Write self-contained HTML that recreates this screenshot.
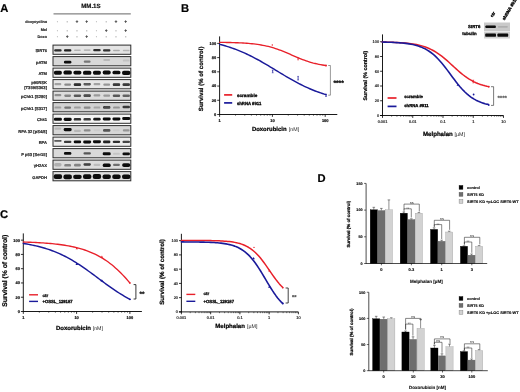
<!DOCTYPE html>
<html lang="en"><head><meta charset="utf-8"><title>Figure</title>
<style>html,body{margin:0;padding:0;background:#fff;overflow:hidden}svg{display:block;filter:blur(0.35px)}text{font-family:"Liberation Sans",sans-serif;text-rendering:geometricPrecision}</style>
</head><body>
<svg width="520" height="392" viewBox="0 0 520 392">
<defs><filter id="bl" x="-5%" y="-40%" width="110%" height="180%"><feGaussianBlur stdDeviation="0.45"/></filter></defs>
<rect x="0" y="0" width="520" height="392" fill="#fff"/>
<g id="panelA">
<text x="0.2" y="11.5" font-size="11.2" font-weight="bold" text-anchor="start" fill="#000" stroke="#000" stroke-width="0.2">A</text>
<text x="90.9" y="8.1" font-size="6.1" font-weight="bold" text-anchor="middle" fill="#111" stroke="#111" stroke-width="0.2">MM.1S</text>
<line x1="53.5" y1="13.9" x2="130.8" y2="13.9" stroke="#555" stroke-width="0.9"/>
<text x="47" y="22.7" font-size="3.8" font-weight="bold" text-anchor="end" fill="#222" stroke="#222" stroke-width="0.16">doxycycline</text>
<text x="47" y="31.4" font-size="3.8" font-weight="bold" text-anchor="end" fill="#222" stroke="#222" stroke-width="0.16">Mel</text>
<text x="47" y="37.7" font-size="3.8" font-weight="bold" text-anchor="end" fill="#222" stroke="#222" stroke-width="0.16">Doxo</text>
<text x="57.6" y="22.9" font-size="4.4" font-weight="bold" text-anchor="middle" fill="#808080">-</text>
<text x="67.35" y="22.9" font-size="4.4" font-weight="bold" text-anchor="middle" fill="#808080">-</text>
<text x="77.1" y="23.1" font-size="4.2" font-weight="bold" text-anchor="middle" fill="#2a2a2a" stroke="#2a2a2a" stroke-width="0.28">+</text>
<text x="86.85" y="23.1" font-size="4.2" font-weight="bold" text-anchor="middle" fill="#2a2a2a" stroke="#2a2a2a" stroke-width="0.28">+</text>
<text x="96.6" y="22.9" font-size="4.4" font-weight="bold" text-anchor="middle" fill="#808080">-</text>
<text x="106.35" y="22.9" font-size="4.4" font-weight="bold" text-anchor="middle" fill="#808080">-</text>
<text x="116.1" y="23.1" font-size="4.2" font-weight="bold" text-anchor="middle" fill="#2a2a2a" stroke="#2a2a2a" stroke-width="0.28">+</text>
<text x="125.85" y="23.1" font-size="4.2" font-weight="bold" text-anchor="middle" fill="#2a2a2a" stroke="#2a2a2a" stroke-width="0.28">+</text>
<text x="57.6" y="31.6" font-size="4.4" font-weight="bold" text-anchor="middle" fill="#808080">-</text>
<text x="67.35" y="31.6" font-size="4.4" font-weight="bold" text-anchor="middle" fill="#808080">-</text>
<text x="77.1" y="31.6" font-size="4.4" font-weight="bold" text-anchor="middle" fill="#808080">-</text>
<text x="86.85" y="31.6" font-size="4.4" font-weight="bold" text-anchor="middle" fill="#808080">-</text>
<text x="96.6" y="31.6" font-size="4.4" font-weight="bold" text-anchor="middle" fill="#808080">-</text>
<text x="106.35" y="31.8" font-size="4.2" font-weight="bold" text-anchor="middle" fill="#2a2a2a" stroke="#2a2a2a" stroke-width="0.28">+</text>
<text x="116.1" y="31.6" font-size="4.4" font-weight="bold" text-anchor="middle" fill="#808080">-</text>
<text x="125.85" y="31.8" font-size="4.2" font-weight="bold" text-anchor="middle" fill="#2a2a2a" stroke="#2a2a2a" stroke-width="0.28">+</text>
<text x="57.6" y="37.7" font-size="4.4" font-weight="bold" text-anchor="middle" fill="#808080">-</text>
<text x="67.35" y="37.9" font-size="4.2" font-weight="bold" text-anchor="middle" fill="#2a2a2a" stroke="#2a2a2a" stroke-width="0.28">+</text>
<text x="77.1" y="37.7" font-size="4.4" font-weight="bold" text-anchor="middle" fill="#808080">-</text>
<text x="86.85" y="37.9" font-size="4.2" font-weight="bold" text-anchor="middle" fill="#2a2a2a" stroke="#2a2a2a" stroke-width="0.28">+</text>
<text x="96.6" y="37.7" font-size="4.4" font-weight="bold" text-anchor="middle" fill="#808080">-</text>
<text x="106.35" y="37.7" font-size="4.4" font-weight="bold" text-anchor="middle" fill="#808080">-</text>
<text x="116.1" y="37.7" font-size="4.4" font-weight="bold" text-anchor="middle" fill="#808080">-</text>
<text x="125.85" y="37.7" font-size="4.4" font-weight="bold" text-anchor="middle" fill="#808080">-</text>
<rect x="53" y="45.1" width="77.8" height="9.2" fill="#e4e4e4" stroke="#2c2c2c" stroke-width="1"/>
<g filter="url(#bl)">
<rect x="54.2" y="49.2" width="7.4" height="2.2" rx="1" fill="#0a0a0a" opacity="0.85"/>
<rect x="63.96" y="49.15" width="7.4" height="2.3" rx="1.05" fill="#0a0a0a" opacity="0.9"/>
<rect x="74.02" y="49.5" width="6.8" height="1.6" rx="0.73" fill="#0a0a0a" opacity="0.22"/>
<rect x="83.78" y="49.3" width="6.8" height="1.6" rx="0.73" fill="#0a0a0a" opacity="0.2"/>
<rect x="93.24" y="48.95" width="7.4" height="2.3" rx="1.05" fill="#0a0a0a" opacity="0.85"/>
<rect x="103" y="49.15" width="7.4" height="2.3" rx="1.05" fill="#0a0a0a" opacity="0.82"/>
<rect x="113.06" y="49.75" width="6.8" height="1.5" rx="0.68" fill="#0a0a0a" opacity="0.25"/>
<rect x="122.82" y="49.75" width="6.8" height="1.5" rx="0.68" fill="#0a0a0a" opacity="0.2"/>
</g>
<text x="47" y="52.1" font-size="4.1" font-weight="bold" text-anchor="end" fill="#222" stroke="#222" stroke-width="0.16">SIRT6</text>
<rect x="53" y="56.6" width="77.8" height="9.2" fill="#d8d8d8" stroke="#2c2c2c" stroke-width="1"/>
<g filter="url(#bl)">
<rect x="63.96" y="60.7" width="7.4" height="2.8" rx="1.27" fill="#0a0a0a" opacity="1"/>
<rect x="83.78" y="60.4" width="6.8" height="2.4" rx="1.09" fill="#0a0a0a" opacity="0.45"/>
<rect x="103.3" y="59" width="6.8" height="2" rx="0.91" fill="#0a0a0a" opacity="0.15"/>
<rect x="122.82" y="59.6" width="6.8" height="2" rx="0.91" fill="#0a0a0a" opacity="0.1"/>
</g>
<text x="47" y="63.6" font-size="4.1" font-weight="bold" text-anchor="end" fill="#222" stroke="#222" stroke-width="0.16">pATM</text>
<rect x="53" y="68.1" width="77.8" height="9.2" fill="#f0f0f0" stroke="#2c2c2c" stroke-width="1"/>
<g filter="url(#bl)">
<rect x="53.9" y="70.75" width="8" height="3.9" rx="1.77" fill="#0a0a0a" opacity="1"/>
<rect x="63.46" y="70.45" width="8.4" height="4.1" rx="1.86" fill="#0a0a0a" opacity="1"/>
<rect x="73.42" y="70.85" width="8" height="3.7" rx="1.68" fill="#0a0a0a" opacity="1"/>
<rect x="82.98" y="70.65" width="8.4" height="4.1" rx="1.86" fill="#0a0a0a" opacity="1"/>
<rect x="92.94" y="70.75" width="8" height="3.9" rx="1.77" fill="#0a0a0a" opacity="1"/>
<rect x="102.7" y="70.55" width="8" height="3.9" rx="1.77" fill="#0a0a0a" opacity="1"/>
<rect x="112.46" y="70.75" width="8" height="3.5" rx="1.59" fill="#0a0a0a" opacity="1"/>
<rect x="122.02" y="70.85" width="8.4" height="4.1" rx="1.86" fill="#0a0a0a" opacity="1"/>
</g>
<text x="47" y="75.1" font-size="4.1" font-weight="bold" text-anchor="end" fill="#222" stroke="#222" stroke-width="0.16">ATM</text>
<rect x="53" y="79.6" width="77.8" height="9.2" fill="#e6e6e6" stroke="#2c2c2c" stroke-width="1"/>
<g filter="url(#bl)">
<rect x="54.5" y="83.1" width="6.8" height="2.2" rx="1" fill="#0a0a0a" opacity="0.3"/>
<rect x="64.26" y="83.4" width="6.8" height="2.4" rx="1.09" fill="#0a0a0a" opacity="0.4"/>
<rect x="73.72" y="83.3" width="7.4" height="2.6" rx="1.18" fill="#0a0a0a" opacity="0.85"/>
<rect x="83.48" y="83" width="7.4" height="2.4" rx="1.09" fill="#0a0a0a" opacity="0.65"/>
<rect x="93.54" y="83.1" width="6.8" height="2.2" rx="1" fill="#0a0a0a" opacity="0.3"/>
<rect x="103.3" y="83.5" width="6.8" height="2.2" rx="1" fill="#0a0a0a" opacity="0.35"/>
<rect x="112.76" y="83.3" width="7.4" height="2.6" rx="1.18" fill="#0a0a0a" opacity="0.8"/>
<rect x="122.52" y="83.3" width="7.4" height="2.6" rx="1.18" fill="#0a0a0a" opacity="0.8"/>
</g>
<text x="47" y="84" font-size="4.1" font-weight="bold" text-anchor="end" fill="#222" stroke="#222" stroke-width="0.16">p90RSK</text>
<text x="47" y="88.6" font-size="4.1" font-weight="bold" text-anchor="end" fill="#222" stroke="#222" stroke-width="0.16">[T359/S363]</text>
<rect x="53" y="91.1" width="77.8" height="9.2" fill="#dcdcdc" stroke="#2c2c2c" stroke-width="1"/>
<g filter="url(#bl)">
<rect x="54.5" y="94" width="6.8" height="2.2" rx="1" fill="#0a0a0a" opacity="0.35"/>
<rect x="64.26" y="94.5" width="6.8" height="2.4" rx="1.09" fill="#0a0a0a" opacity="0.4"/>
<rect x="73.72" y="94.4" width="7.4" height="2.6" rx="1.18" fill="#0a0a0a" opacity="0.6"/>
<rect x="83.48" y="94.3" width="7.4" height="2.8" rx="1.27" fill="#0a0a0a" opacity="0.7"/>
<rect x="93.54" y="94.2" width="6.8" height="2.2" rx="1" fill="#0a0a0a" opacity="0.3"/>
<rect x="103.3" y="94.6" width="6.8" height="2.2" rx="1" fill="#0a0a0a" opacity="0.3"/>
<rect x="112.76" y="94.4" width="7.4" height="2.6" rx="1.18" fill="#0a0a0a" opacity="0.6"/>
<rect x="122.52" y="94.4" width="7.4" height="2.6" rx="1.18" fill="#0a0a0a" opacity="0.55"/>
</g>
<text x="47" y="98.1" font-size="4.1" font-weight="bold" text-anchor="end" fill="#222" stroke="#222" stroke-width="0.16">pChk1 [S280]</text>
<rect x="53" y="102.6" width="77.8" height="9.2" fill="#d2d2d2" stroke="#2c2c2c" stroke-width="1"/>
<g filter="url(#bl)">
<rect x="54.5" y="106.6" width="6.8" height="2" rx="0.91" fill="#0a0a0a" opacity="0.25"/>
<rect x="64.26" y="106.4" width="6.8" height="2.4" rx="1.09" fill="#0a0a0a" opacity="0.45"/>
<rect x="74.02" y="106.6" width="6.8" height="2" rx="0.91" fill="#0a0a0a" opacity="0.25"/>
<rect x="83.78" y="106.5" width="6.8" height="2.2" rx="1" fill="#0a0a0a" opacity="0.35"/>
<rect x="93.54" y="106.6" width="6.8" height="2" rx="0.91" fill="#0a0a0a" opacity="0.22"/>
<rect x="103" y="106.1" width="7.4" height="2.6" rx="1.18" fill="#0a0a0a" opacity="0.7"/>
<rect x="113.06" y="106.6" width="6.8" height="2" rx="0.91" fill="#0a0a0a" opacity="0.3"/>
<rect x="122.52" y="105.7" width="7.4" height="2.6" rx="1.18" fill="#0a0a0a" opacity="0.78"/>
</g>
<text x="47" y="109.6" font-size="4.1" font-weight="bold" text-anchor="end" fill="#222" stroke="#222" stroke-width="0.16">pChk1 [S317]</text>
<rect x="53" y="114.1" width="77.8" height="9.2" fill="#f4f4f4" stroke="#2c2c2c" stroke-width="1"/>
<g filter="url(#bl)">
<rect x="53.9" y="117.8" width="8" height="3" rx="1.36" fill="#0a0a0a" opacity="1"/>
<rect x="63.66" y="117.7" width="8" height="3.2" rx="1.45" fill="#0a0a0a" opacity="1"/>
<rect x="73.72" y="118" width="7.4" height="2.6" rx="1.18" fill="#0a0a0a" opacity="0.85"/>
<rect x="83.48" y="118" width="7.4" height="2.6" rx="1.18" fill="#0a0a0a" opacity="0.8"/>
<rect x="93.24" y="117.7" width="7.4" height="2.8" rx="1.27" fill="#0a0a0a" opacity="0.95"/>
<rect x="102.7" y="117.4" width="8" height="3" rx="1.36" fill="#0a0a0a" opacity="1"/>
<rect x="112.46" y="117.4" width="8" height="3" rx="1.36" fill="#0a0a0a" opacity="1"/>
<rect x="122.22" y="117" width="8" height="3" rx="1.36" fill="#0a0a0a" opacity="1"/>
</g>
<text x="47" y="121.1" font-size="4.1" font-weight="bold" text-anchor="end" fill="#222" stroke="#222" stroke-width="0.16">Chk1</text>
<rect x="53" y="125.6" width="77.8" height="9.2" fill="#d6d6d6" stroke="#2c2c2c" stroke-width="1"/>
<g filter="url(#bl)">
<rect x="54.5" y="127.4" width="6.8" height="2.4" rx="1.09" fill="#0a0a0a" opacity="0.15"/>
<rect x="63.66" y="128" width="8" height="3.2" rx="1.45" fill="#0a0a0a" opacity="1"/>
<rect x="74.02" y="129.7" width="6.8" height="2.2" rx="1" fill="#0a0a0a" opacity="0.15"/>
<rect x="83.78" y="129.2" width="6.8" height="2.4" rx="1.09" fill="#0a0a0a" opacity="0.35"/>
<rect x="93.54" y="129.2" width="6.8" height="2" rx="0.91" fill="#0a0a0a" opacity="0.05"/>
<rect x="103" y="129.1" width="7.4" height="2.6" rx="1.18" fill="#0a0a0a" opacity="0.6"/>
<rect x="113.06" y="129.2" width="6.8" height="2" rx="0.91" fill="#0a0a0a" opacity="0.05"/>
<rect x="122.82" y="129.2" width="6.8" height="2.4" rx="1.09" fill="#0a0a0a" opacity="0.3"/>
</g>
<text x="47" y="132.6" font-size="4.1" font-weight="bold" text-anchor="end" fill="#222" stroke="#222" stroke-width="0.16">RPA 32 [pS4/8]</text>
<rect x="53" y="137.1" width="77.8" height="9.2" fill="#ececec" stroke="#2c2c2c" stroke-width="1"/>
<g filter="url(#bl)">
<rect x="54.2" y="140" width="7.4" height="1.8" rx="0.82" fill="#0a0a0a" opacity="0.65"/>
<rect x="63.96" y="140.8" width="7.4" height="2.2" rx="1" fill="#0a0a0a" opacity="0.8"/>
<rect x="73.72" y="140.5" width="7.4" height="2.8" rx="1.27" fill="#0a0a0a" opacity="1"/>
<rect x="83.18" y="140.4" width="8" height="3" rx="1.36" fill="#0a0a0a" opacity="1"/>
<rect x="92.94" y="140.2" width="8" height="3" rx="1.36" fill="#0a0a0a" opacity="1"/>
<rect x="103" y="140.6" width="7.4" height="2.6" rx="1.18" fill="#0a0a0a" opacity="0.9"/>
<rect x="112.76" y="140.7" width="7.4" height="2.4" rx="1.09" fill="#0a0a0a" opacity="0.85"/>
<rect x="122.52" y="140.8" width="7.4" height="2.2" rx="1" fill="#0a0a0a" opacity="0.75"/>
</g>
<text x="47" y="144.1" font-size="4.1" font-weight="bold" text-anchor="end" fill="#222" stroke="#222" stroke-width="0.16">RPA</text>
<rect x="53" y="148.6" width="77.8" height="9.2" fill="#dadada" stroke="#2c2c2c" stroke-width="1"/>
<g filter="url(#bl)">
<rect x="63.96" y="152" width="7.4" height="2.8" rx="1.27" fill="#0a0a0a" opacity="1"/>
<rect x="83.48" y="152.3" width="7.4" height="2.2" rx="1" fill="#0a0a0a" opacity="0.6"/>
<rect x="102.7" y="152.3" width="8" height="3" rx="1.36" fill="#0a0a0a" opacity="1"/>
<rect x="113.06" y="152.8" width="6.8" height="2" rx="0.91" fill="#0a0a0a" opacity="0.1"/>
<rect x="122.52" y="152.4" width="7.4" height="2.8" rx="1.27" fill="#0a0a0a" opacity="1"/>
</g>
<text x="47" y="155.6" font-size="4.1" font-weight="bold" text-anchor="end" fill="#222" stroke="#222" stroke-width="0.16">P p53 [Ser15]</text>
<rect x="53" y="160.1" width="77.8" height="9.2" fill="#dcdcdc" stroke="#2c2c2c" stroke-width="1"/>
<g filter="url(#bl)">
<rect x="54.2" y="163" width="7.4" height="3.4" rx="1.55" fill="#0a0a0a" opacity="0.2"/>
<rect x="64.26" y="164" width="6.8" height="2.6" rx="1.18" fill="#0a0a0a" opacity="0.4"/>
<rect x="74.02" y="163.8" width="6.8" height="2.6" rx="1.18" fill="#0a0a0a" opacity="0.4"/>
<rect x="83.48" y="163.3" width="7.4" height="2.4" rx="1.09" fill="#0a0a0a" opacity="0.75"/>
<rect x="93.54" y="163.7" width="6.8" height="2.4" rx="1.09" fill="#0a0a0a" opacity="0.15"/>
<rect x="102.7" y="163.6" width="8" height="3.4" rx="1.55" fill="#0a0a0a" opacity="1"/>
<rect x="113.06" y="163.7" width="6.8" height="2.4" rx="1.09" fill="#0a0a0a" opacity="0.5"/>
<rect x="122.22" y="163.2" width="8" height="3.8" rx="1.73" fill="#0a0a0a" opacity="1"/>
</g>
<text x="47" y="167.1" font-size="4.1" font-weight="bold" text-anchor="end" fill="#222" stroke="#222" stroke-width="0.16">&#947;H2AX</text>
<rect x="53" y="171.6" width="77.8" height="9.2" fill="#dedede" stroke="#2c2c2c" stroke-width="1"/>
<g filter="url(#bl)">
<rect x="53.7" y="174.3" width="8.4" height="4.6" rx="2" fill="#0a0a0a" opacity="1"/>
<rect x="63.46" y="174.4" width="8.4" height="4.8" rx="2" fill="#0a0a0a" opacity="1"/>
<rect x="73.22" y="174.7" width="8.4" height="4.2" rx="1.91" fill="#0a0a0a" opacity="1"/>
<rect x="82.98" y="174.2" width="8.4" height="4.8" rx="2" fill="#0a0a0a" opacity="1"/>
<rect x="92.74" y="173.9" width="8.4" height="5" rx="2" fill="#0a0a0a" opacity="1"/>
<rect x="102.5" y="174.5" width="8.4" height="4.6" rx="2" fill="#0a0a0a" opacity="1"/>
<rect x="112.26" y="174.6" width="8.4" height="4.4" rx="2" fill="#0a0a0a" opacity="1"/>
<rect x="122.02" y="174.5" width="8.4" height="4.6" rx="2" fill="#0a0a0a" opacity="1"/>
</g>
<text x="47" y="178.6" font-size="4.1" font-weight="bold" text-anchor="end" fill="#222" stroke="#222" stroke-width="0.16">GAPDH</text>
</g>
<g id="panelB">
<text x="181" y="12.3" font-size="11.2" font-weight="bold" text-anchor="start" fill="#000" stroke="#000" stroke-width="0.2">B</text>
<line x1="219.6" y1="36.4" x2="219.6" y2="114.9" stroke="#000" stroke-width="0.9"/>
<line x1="219.6" y1="114.5" x2="337.3" y2="114.5" stroke="#000" stroke-width="0.9"/>
<line x1="217.2" y1="114.5" x2="219.6" y2="114.5" stroke="#000" stroke-width="0.8"/>
<text x="216.2" y="115.85" font-size="3.95" font-weight="bold" text-anchor="end" fill="#111" stroke="#111" stroke-width="0.2">0</text>
<line x1="217.2" y1="100.28" x2="219.6" y2="100.28" stroke="#000" stroke-width="0.8"/>
<text x="216.2" y="101.63" font-size="3.95" font-weight="bold" text-anchor="end" fill="#111" stroke="#111" stroke-width="0.2">20</text>
<line x1="217.2" y1="86.06" x2="219.6" y2="86.06" stroke="#000" stroke-width="0.8"/>
<text x="216.2" y="87.41" font-size="3.95" font-weight="bold" text-anchor="end" fill="#111" stroke="#111" stroke-width="0.2">40</text>
<line x1="217.2" y1="71.84" x2="219.6" y2="71.84" stroke="#000" stroke-width="0.8"/>
<text x="216.2" y="73.19" font-size="3.95" font-weight="bold" text-anchor="end" fill="#111" stroke="#111" stroke-width="0.2">60</text>
<line x1="217.2" y1="57.62" x2="219.6" y2="57.62" stroke="#000" stroke-width="0.8"/>
<text x="216.2" y="58.97" font-size="3.95" font-weight="bold" text-anchor="end" fill="#111" stroke="#111" stroke-width="0.2">80</text>
<line x1="217.2" y1="43.4" x2="219.6" y2="43.4" stroke="#000" stroke-width="0.8"/>
<text x="216.2" y="44.75" font-size="3.95" font-weight="bold" text-anchor="end" fill="#111" stroke="#111" stroke-width="0.2">100</text>
<line x1="219.6" y1="114.5" x2="219.6" y2="116.9" stroke="#000" stroke-width="0.8"/>
<text x="219.6" y="122.25" font-size="3.95" font-weight="bold" text-anchor="middle" fill="#111" stroke="#111" stroke-width="0.2">1</text>
<line x1="272.4" y1="114.5" x2="272.4" y2="116.9" stroke="#000" stroke-width="0.8"/>
<text x="272.4" y="122.25" font-size="3.95" font-weight="bold" text-anchor="middle" fill="#111" stroke="#111" stroke-width="0.2">10</text>
<line x1="325.2" y1="114.5" x2="325.2" y2="116.9" stroke="#000" stroke-width="0.8"/>
<text x="325.2" y="122.25" font-size="3.95" font-weight="bold" text-anchor="middle" fill="#111" stroke="#111" stroke-width="0.2">100</text>
<line x1="235.49" y1="114.5" x2="235.49" y2="115.8" stroke="#000" stroke-width="0.5"/>
<line x1="244.79" y1="114.5" x2="244.79" y2="115.8" stroke="#000" stroke-width="0.5"/>
<line x1="251.39" y1="114.5" x2="251.39" y2="115.8" stroke="#000" stroke-width="0.5"/>
<line x1="256.51" y1="114.5" x2="256.51" y2="115.8" stroke="#000" stroke-width="0.5"/>
<line x1="260.69" y1="114.5" x2="260.69" y2="115.8" stroke="#000" stroke-width="0.5"/>
<line x1="264.22" y1="114.5" x2="264.22" y2="115.8" stroke="#000" stroke-width="0.5"/>
<line x1="267.28" y1="114.5" x2="267.28" y2="115.8" stroke="#000" stroke-width="0.5"/>
<line x1="269.98" y1="114.5" x2="269.98" y2="115.8" stroke="#000" stroke-width="0.5"/>
<line x1="288.29" y1="114.5" x2="288.29" y2="115.8" stroke="#000" stroke-width="0.5"/>
<line x1="297.59" y1="114.5" x2="297.59" y2="115.8" stroke="#000" stroke-width="0.5"/>
<line x1="304.19" y1="114.5" x2="304.19" y2="115.8" stroke="#000" stroke-width="0.5"/>
<line x1="309.31" y1="114.5" x2="309.31" y2="115.8" stroke="#000" stroke-width="0.5"/>
<line x1="313.49" y1="114.5" x2="313.49" y2="115.8" stroke="#000" stroke-width="0.5"/>
<line x1="317.02" y1="114.5" x2="317.02" y2="115.8" stroke="#000" stroke-width="0.5"/>
<line x1="320.08" y1="114.5" x2="320.08" y2="115.8" stroke="#000" stroke-width="0.5"/>
<line x1="322.78" y1="114.5" x2="322.78" y2="115.8" stroke="#000" stroke-width="0.5"/>
<text x="251.9" y="130.9" font-size="5.95" font-weight="bold" text-anchor="start" fill="#000" stroke="#000" stroke-width="0.22">Doxorubicin</text>
<text x="288.8" y="130.9" font-size="5.3" font-weight="normal" text-anchor="start" fill="#222">[nM]</text>
<text transform="translate(202.9 78.85) rotate(-90)" font-size="6.1" font-weight="bold" text-anchor="middle" fill="#000" stroke="#000" stroke-width="0.2">Survival (% of control)</text>
<path d="M219.6 42.34 L221.4 42.37 L223.21 42.39 L225.01 42.42 L226.81 42.46 L228.62 42.5 L230.42 42.54 L232.22 42.59 L234.03 42.64 L235.83 42.71 L237.63 42.78 L239.44 42.85 L241.24 42.94 L243.04 43.04 L244.85 43.15 L246.65 43.28 L248.45 43.42 L250.26 43.58 L252.06 43.75 L253.86 43.95 L255.67 44.16 L257.47 44.41 L259.27 44.67 L261.08 44.97 L262.88 45.29 L264.68 45.65 L266.49 46.04 L268.29 46.46 L270.09 46.92 L271.9 47.42 L273.7 47.96 L275.51 48.53 L277.31 49.14 L279.11 49.79 L280.92 50.47 L282.72 51.18 L284.52 51.91 L286.33 52.67 L288.13 53.44 L289.93 54.23 L291.74 55.02 L293.54 55.81 L295.34 56.59 L297.15 57.37 L298.95 58.12 L300.75 58.85 L302.56 59.56 L304.36 60.23 L306.16 60.87 L307.97 61.48 L309.77 62.04 L311.57 62.57 L313.38 63.07 L315.18 63.52 L316.98 63.94 L318.79 64.33 L320.59 64.68 L322.39 65 L324.2 65.29 L326 65.55" fill="none" stroke="#e8202a" stroke-width="1.35" stroke-linecap="round" stroke-linejoin="round"/>
<path d="M219.6 44.35 L221.4 44.82 L223.21 45.3 L225.01 45.82 L226.81 46.36 L228.62 46.92 L230.42 47.51 L232.22 48.12 L234.03 48.76 L235.83 49.43 L237.63 50.12 L239.44 50.84 L241.24 51.59 L243.04 52.37 L244.85 53.17 L246.65 54 L248.45 54.85 L250.26 55.73 L252.06 56.64 L253.86 57.57 L255.67 58.52 L257.47 59.49 L259.27 60.49 L261.08 61.5 L262.88 62.53 L264.68 63.57 L266.49 64.63 L268.29 65.7 L270.09 66.78 L271.9 67.87 L273.7 68.96 L275.51 70.06 L277.31 71.16 L279.11 72.25 L280.92 73.34 L282.72 74.43 L284.52 75.5 L286.33 76.57 L288.13 77.62 L289.93 78.66 L291.74 79.69 L293.54 80.7 L295.34 81.68 L297.15 82.65 L298.95 83.59 L300.75 84.51 L302.56 85.41 L304.36 86.28 L306.16 87.13 L307.97 87.95 L309.77 88.74 L311.57 89.51 L313.38 90.24 L315.18 90.96 L316.98 91.64 L318.79 92.3 L320.59 92.93 L322.39 93.53 L324.2 94.11 L326 94.67" fill="none" stroke="#1a1a9a" stroke-width="1.45" stroke-linecap="round" stroke-linejoin="round"/>
<circle cx="272.3" cy="45" r="0.7" fill="#e8202a"/>
<line x1="298.1" y1="57.9" x2="298.1" y2="59.9" stroke="#e8202a" stroke-width="0.8"/>
<line x1="297.2" y1="57.9" x2="299" y2="57.9" stroke="#e8202a" stroke-width="0.5"/>
<line x1="297.2" y1="59.9" x2="299" y2="59.9" stroke="#e8202a" stroke-width="0.5"/>
<circle cx="326" cy="65.5" r="0.9" fill="#e8202a"/>
<line x1="272.7" y1="70" x2="272.7" y2="72.8" stroke="#1a1a9a" stroke-width="0.8"/>
<line x1="271.8" y1="70" x2="273.6" y2="70" stroke="#1a1a9a" stroke-width="0.5"/>
<line x1="271.8" y1="72.8" x2="273.6" y2="72.8" stroke="#1a1a9a" stroke-width="0.5"/>
<line x1="298.1" y1="76.4" x2="298.1" y2="80" stroke="#1a1a9a" stroke-width="0.8"/>
<line x1="297.2" y1="76.4" x2="299" y2="76.4" stroke="#1a1a9a" stroke-width="0.5"/>
<line x1="297.2" y1="80" x2="299" y2="80" stroke="#1a1a9a" stroke-width="0.5"/>
<line x1="326" y1="94.1" x2="326" y2="96.5" stroke="#1a1a9a" stroke-width="0.8"/>
<line x1="325.1" y1="94.1" x2="326.9" y2="94.1" stroke="#1a1a9a" stroke-width="0.5"/>
<line x1="325.1" y1="96.5" x2="326.9" y2="96.5" stroke="#1a1a9a" stroke-width="0.5"/>
<path d="M328.2 65.5 H330.4 V95.2 H328.2" fill="none" stroke="#444" stroke-width="0.55"/>
<text x="338.6" y="84.6" font-size="6.6" font-weight="bold" text-anchor="middle" fill="#111" stroke="#111" stroke-width="0.3">****</text>
<line x1="224.1" y1="94.9" x2="232.2" y2="94.9" stroke="#e8202a" stroke-width="1.7"/>
<text x="236.9" y="96.5" font-size="4.5" font-weight="bold" text-anchor="start" fill="#000" textLength="20.4" lengthAdjust="spacingAndGlyphs" stroke="#000" stroke-width="0.28">scramble</text>
<line x1="224.1" y1="102.9" x2="232.2" y2="102.9" stroke="#1a1a9a" stroke-width="1.7"/>
<text x="236.9" y="104.5" font-size="4.5" font-weight="bold" text-anchor="start" fill="#000" textLength="24.4" lengthAdjust="spacingAndGlyphs" stroke="#000" stroke-width="0.28">shRNA #911</text>
<line x1="382.5" y1="34.4" x2="382.5" y2="115.9" stroke="#000" stroke-width="0.9"/>
<line x1="380" y1="115.5" x2="503.5" y2="115.5" stroke="#000" stroke-width="0.9"/>
<line x1="380.1" y1="115.5" x2="382.5" y2="115.5" stroke="#000" stroke-width="0.8"/>
<text x="379.1" y="116.85" font-size="3.9" font-weight="normal" text-anchor="end" fill="#111" stroke="#111" stroke-width="0.16">0</text>
<line x1="380.1" y1="100.75" x2="382.5" y2="100.75" stroke="#000" stroke-width="0.8"/>
<text x="379.1" y="102.1" font-size="3.9" font-weight="normal" text-anchor="end" fill="#111" stroke="#111" stroke-width="0.16">20</text>
<line x1="380.1" y1="86" x2="382.5" y2="86" stroke="#000" stroke-width="0.8"/>
<text x="379.1" y="87.35" font-size="3.9" font-weight="normal" text-anchor="end" fill="#111" stroke="#111" stroke-width="0.16">40</text>
<line x1="380.1" y1="71.25" x2="382.5" y2="71.25" stroke="#000" stroke-width="0.8"/>
<text x="379.1" y="72.6" font-size="3.9" font-weight="normal" text-anchor="end" fill="#111" stroke="#111" stroke-width="0.16">60</text>
<line x1="380.1" y1="56.5" x2="382.5" y2="56.5" stroke="#000" stroke-width="0.8"/>
<text x="379.1" y="57.85" font-size="3.9" font-weight="normal" text-anchor="end" fill="#111" stroke="#111" stroke-width="0.16">80</text>
<line x1="380.1" y1="41.75" x2="382.5" y2="41.75" stroke="#000" stroke-width="0.8"/>
<text x="379.1" y="43.1" font-size="3.9" font-weight="normal" text-anchor="end" fill="#111" stroke="#111" stroke-width="0.16">100</text>
<line x1="382.5" y1="115.5" x2="382.5" y2="117.9" stroke="#000" stroke-width="0.8"/>
<text x="382.5" y="123.15" font-size="3.9" font-weight="normal" text-anchor="middle" fill="#111" stroke="#111" stroke-width="0.16">0.001</text>
<line x1="412.75" y1="115.5" x2="412.75" y2="117.9" stroke="#000" stroke-width="0.8"/>
<text x="412.75" y="123.15" font-size="3.9" font-weight="normal" text-anchor="middle" fill="#111" stroke="#111" stroke-width="0.16">0.01</text>
<line x1="443" y1="115.5" x2="443" y2="117.9" stroke="#000" stroke-width="0.8"/>
<text x="443" y="123.15" font-size="3.9" font-weight="normal" text-anchor="middle" fill="#111" stroke="#111" stroke-width="0.16">0.1</text>
<line x1="473.25" y1="115.5" x2="473.25" y2="117.9" stroke="#000" stroke-width="0.8"/>
<text x="473.25" y="123.15" font-size="3.9" font-weight="normal" text-anchor="middle" fill="#111" stroke="#111" stroke-width="0.16">1</text>
<line x1="503.5" y1="115.5" x2="503.5" y2="117.9" stroke="#000" stroke-width="0.8"/>
<text x="503.5" y="123.15" font-size="3.9" font-weight="normal" text-anchor="middle" fill="#111" stroke="#111" stroke-width="0.16">10</text>
<line x1="391.61" y1="115.5" x2="391.61" y2="116.8" stroke="#000" stroke-width="0.5"/>
<line x1="396.93" y1="115.5" x2="396.93" y2="116.8" stroke="#000" stroke-width="0.5"/>
<line x1="400.71" y1="115.5" x2="400.71" y2="116.8" stroke="#000" stroke-width="0.5"/>
<line x1="403.64" y1="115.5" x2="403.64" y2="116.8" stroke="#000" stroke-width="0.5"/>
<line x1="406.04" y1="115.5" x2="406.04" y2="116.8" stroke="#000" stroke-width="0.5"/>
<line x1="408.06" y1="115.5" x2="408.06" y2="116.8" stroke="#000" stroke-width="0.5"/>
<line x1="409.82" y1="115.5" x2="409.82" y2="116.8" stroke="#000" stroke-width="0.5"/>
<line x1="411.37" y1="115.5" x2="411.37" y2="116.8" stroke="#000" stroke-width="0.5"/>
<line x1="421.86" y1="115.5" x2="421.86" y2="116.8" stroke="#000" stroke-width="0.5"/>
<line x1="427.18" y1="115.5" x2="427.18" y2="116.8" stroke="#000" stroke-width="0.5"/>
<line x1="430.96" y1="115.5" x2="430.96" y2="116.8" stroke="#000" stroke-width="0.5"/>
<line x1="433.89" y1="115.5" x2="433.89" y2="116.8" stroke="#000" stroke-width="0.5"/>
<line x1="436.29" y1="115.5" x2="436.29" y2="116.8" stroke="#000" stroke-width="0.5"/>
<line x1="438.31" y1="115.5" x2="438.31" y2="116.8" stroke="#000" stroke-width="0.5"/>
<line x1="440.07" y1="115.5" x2="440.07" y2="116.8" stroke="#000" stroke-width="0.5"/>
<line x1="441.62" y1="115.5" x2="441.62" y2="116.8" stroke="#000" stroke-width="0.5"/>
<line x1="452.11" y1="115.5" x2="452.11" y2="116.8" stroke="#000" stroke-width="0.5"/>
<line x1="457.43" y1="115.5" x2="457.43" y2="116.8" stroke="#000" stroke-width="0.5"/>
<line x1="461.21" y1="115.5" x2="461.21" y2="116.8" stroke="#000" stroke-width="0.5"/>
<line x1="464.14" y1="115.5" x2="464.14" y2="116.8" stroke="#000" stroke-width="0.5"/>
<line x1="466.54" y1="115.5" x2="466.54" y2="116.8" stroke="#000" stroke-width="0.5"/>
<line x1="468.56" y1="115.5" x2="468.56" y2="116.8" stroke="#000" stroke-width="0.5"/>
<line x1="470.32" y1="115.5" x2="470.32" y2="116.8" stroke="#000" stroke-width="0.5"/>
<line x1="471.87" y1="115.5" x2="471.87" y2="116.8" stroke="#000" stroke-width="0.5"/>
<line x1="482.36" y1="115.5" x2="482.36" y2="116.8" stroke="#000" stroke-width="0.5"/>
<line x1="487.68" y1="115.5" x2="487.68" y2="116.8" stroke="#000" stroke-width="0.5"/>
<line x1="491.46" y1="115.5" x2="491.46" y2="116.8" stroke="#000" stroke-width="0.5"/>
<line x1="494.39" y1="115.5" x2="494.39" y2="116.8" stroke="#000" stroke-width="0.5"/>
<line x1="496.79" y1="115.5" x2="496.79" y2="116.8" stroke="#000" stroke-width="0.5"/>
<line x1="498.81" y1="115.5" x2="498.81" y2="116.8" stroke="#000" stroke-width="0.5"/>
<line x1="500.57" y1="115.5" x2="500.57" y2="116.8" stroke="#000" stroke-width="0.5"/>
<line x1="502.12" y1="115.5" x2="502.12" y2="116.8" stroke="#000" stroke-width="0.5"/>
<text x="423" y="135.6" font-size="6.1" font-weight="bold" text-anchor="start" fill="#000" stroke="#000" stroke-width="0.22">Melphalan</text>
<text x="454.6" y="135.6" font-size="5.3" font-weight="normal" text-anchor="start" fill="#222">[&#181;M]</text>
<text transform="translate(366.5 75.7) rotate(-90)" font-size="5.3" font-weight="bold" text-anchor="middle" fill="#000" stroke="#000" stroke-width="0.2">Survival (% control)</text>
<path d="M382.2 42.05 L384 42.08 L385.81 42.12 L387.61 42.16 L389.41 42.2 L391.22 42.25 L393.02 42.31 L394.82 42.38 L396.63 42.46 L398.43 42.55 L400.23 42.66 L402.04 42.77 L403.84 42.91 L405.64 43.07 L407.45 43.24 L409.25 43.45 L411.05 43.68 L412.86 43.94 L414.66 44.24 L416.46 44.57 L418.27 44.96 L420.07 45.39 L421.87 45.87 L423.68 46.42 L425.48 47.03 L427.28 47.71 L429.09 48.47 L430.89 49.31 L432.69 50.23 L434.5 51.24 L436.3 52.34 L438.11 53.53 L439.91 54.81 L441.71 56.17 L443.52 57.6 L445.32 59.11 L447.12 60.67 L448.93 62.29 L450.73 63.93 L452.53 65.59 L454.34 67.25 L456.14 68.89 L457.94 70.5 L459.75 72.07 L461.55 73.58 L463.35 75.02 L465.16 76.38 L466.96 77.66 L468.76 78.85 L470.57 79.95 L472.37 80.96 L474.17 81.88 L475.98 82.72 L477.78 83.48 L479.58 84.17 L481.39 84.78 L483.19 85.33 L484.99 85.81 L486.8 86.25 L488.6 86.63" fill="none" stroke="#e8202a" stroke-width="1.5" stroke-linecap="round" stroke-linejoin="round"/>
<path d="M382.2 42.07 L384 42.11 L385.81 42.15 L387.61 42.2 L389.41 42.25 L391.22 42.32 L393.02 42.39 L394.82 42.48 L396.63 42.58 L398.43 42.7 L400.23 42.83 L402.04 42.99 L403.84 43.17 L405.64 43.37 L407.45 43.61 L409.25 43.89 L411.05 44.21 L412.86 44.57 L414.66 44.99 L416.46 45.47 L418.27 46.02 L420.07 46.65 L421.87 47.36 L423.68 48.16 L425.48 49.07 L427.28 50.09 L429.09 51.23 L430.89 52.5 L432.69 53.91 L434.5 55.45 L436.3 57.13 L438.11 58.96 L439.91 60.92 L441.71 63.01 L443.52 65.2 L445.32 67.5 L447.12 69.87 L448.93 72.29 L450.73 74.74 L452.53 77.18 L454.34 79.6 L456.14 81.96 L457.94 84.24 L459.75 86.42 L461.55 88.48 L463.35 90.42 L465.16 92.22 L466.96 93.88 L468.76 95.41 L470.57 96.79 L472.37 98.04 L474.17 99.16 L475.98 100.16 L477.78 101.05 L479.58 101.84 L481.39 102.53 L483.19 103.14 L484.99 103.68 L486.8 104.15 L488.6 104.56" fill="none" stroke="#1a1a9a" stroke-width="1.6" stroke-linecap="round" stroke-linejoin="round"/>
<line x1="473.3" y1="80.1" x2="473.3" y2="82.9" stroke="#e8202a" stroke-width="0.8"/>
<line x1="472.4" y1="80.1" x2="474.2" y2="80.1" stroke="#e8202a" stroke-width="0.5"/>
<line x1="472.4" y1="82.9" x2="474.2" y2="82.9" stroke="#e8202a" stroke-width="0.5"/>
<circle cx="488.8" cy="86.7" r="0.9" fill="#e8202a"/>
<path d="M457.7 83.7 l1.1 2 h-2.2 z" fill="#1a1a9a"/>
<circle cx="473.6" cy="94.5" r="0.9" fill="#1a1a9a"/>
<circle cx="488.8" cy="105.2" r="0.8" fill="#1a1a9a"/>
<path d="M491 86.7 H493.6 V105.4 H491" fill="none" stroke="#222" stroke-width="0.6"/>
<text x="502.2" y="100" font-size="6.2" font-weight="bold" text-anchor="middle" fill="#555" stroke="#555" stroke-width="0.15">****</text>
<line x1="387.6" y1="98" x2="396.5" y2="98" stroke="#e8202a" stroke-width="1.7"/>
<text x="404.2" y="98" font-size="4.3" font-weight="bold" text-anchor="start" fill="#000" textLength="18.8" lengthAdjust="spacingAndGlyphs" stroke="#000" stroke-width="0.28">scramble</text>
<line x1="387.6" y1="106.4" x2="396.5" y2="106.4" stroke="#1a1a9a" stroke-width="1.7"/>
<text x="404.2" y="107.4" font-size="4.3" font-weight="bold" text-anchor="start" fill="#000" textLength="24.5" lengthAdjust="spacingAndGlyphs" stroke="#000" stroke-width="0.28">shRNA #911</text>
<rect x="484" y="22.5" width="26" height="8.7" fill="#c9c9c9"/>
<rect x="484" y="31.7" width="26" height="6.8" fill="#d2d2d2"/>
<g filter="url(#bl)">
<rect x="485.4" y="25.5" width="10.4" height="2.6" rx="0.8" fill="#0a0a0a"/>
<rect x="497.8" y="25.9" width="10" height="1.8" rx="0.8" fill="#0a0a0a" opacity="0.13"/>
<rect x="485.2" y="33.6" width="10.8" height="3.2" rx="0.8" fill="#0a0a0a"/>
<rect x="497.4" y="33.6" width="10.8" height="3.2" rx="0.8" fill="#0a0a0a"/>
</g>
<text x="480.3" y="28.4" font-size="4.3" font-weight="bold" text-anchor="end" fill="#000" stroke="#000" stroke-width="0.28">SIRT6</text>
<text x="476.6" y="35.4" font-size="4.3" font-weight="bold" text-anchor="end" fill="#000" stroke="#000" stroke-width="0.28">tubulin</text>
<text transform="translate(492.2 17.6) rotate(-52)" font-size="4.4" font-weight="bold" stroke="#000" stroke-width="0.3">ctr</text>
<text transform="translate(504.6 20.6) rotate(-60)" font-size="4.4" font-weight="bold" stroke="#000" stroke-width="0.3">shRNA #911</text>
</g>
<g id="panelC">
<text x="0" y="218" font-size="11.2" font-weight="bold" text-anchor="start" fill="#000" stroke="#000" stroke-width="0.2">C</text>
<line x1="23.3" y1="233.4" x2="23.3" y2="311.9" stroke="#000" stroke-width="0.9"/>
<line x1="23.3" y1="311.5" x2="141.9" y2="311.5" stroke="#000" stroke-width="0.9"/>
<line x1="20.9" y1="311.5" x2="23.3" y2="311.5" stroke="#000" stroke-width="0.8"/>
<text x="19.9" y="312.85" font-size="3.95" font-weight="bold" text-anchor="end" fill="#111" stroke="#111" stroke-width="0.2">0</text>
<line x1="20.9" y1="297.23" x2="23.3" y2="297.23" stroke="#000" stroke-width="0.8"/>
<text x="19.9" y="298.58" font-size="3.95" font-weight="bold" text-anchor="end" fill="#111" stroke="#111" stroke-width="0.2">20</text>
<line x1="20.9" y1="282.96" x2="23.3" y2="282.96" stroke="#000" stroke-width="0.8"/>
<text x="19.9" y="284.31" font-size="3.95" font-weight="bold" text-anchor="end" fill="#111" stroke="#111" stroke-width="0.2">40</text>
<line x1="20.9" y1="268.69" x2="23.3" y2="268.69" stroke="#000" stroke-width="0.8"/>
<text x="19.9" y="270.04" font-size="3.95" font-weight="bold" text-anchor="end" fill="#111" stroke="#111" stroke-width="0.2">60</text>
<line x1="20.9" y1="254.42" x2="23.3" y2="254.42" stroke="#000" stroke-width="0.8"/>
<text x="19.9" y="255.77" font-size="3.95" font-weight="bold" text-anchor="end" fill="#111" stroke="#111" stroke-width="0.2">80</text>
<line x1="20.9" y1="240.15" x2="23.3" y2="240.15" stroke="#000" stroke-width="0.8"/>
<text x="19.9" y="241.5" font-size="3.95" font-weight="bold" text-anchor="end" fill="#111" stroke="#111" stroke-width="0.2">100</text>
<line x1="23.3" y1="311.5" x2="23.3" y2="313.9" stroke="#000" stroke-width="0.8"/>
<text x="23.3" y="318.85" font-size="3.95" font-weight="bold" text-anchor="middle" fill="#111" stroke="#111" stroke-width="0.2">1</text>
<line x1="76.6" y1="311.5" x2="76.6" y2="313.9" stroke="#000" stroke-width="0.8"/>
<text x="76.6" y="318.85" font-size="3.95" font-weight="bold" text-anchor="middle" fill="#111" stroke="#111" stroke-width="0.2">10</text>
<line x1="129.9" y1="311.5" x2="129.9" y2="313.9" stroke="#000" stroke-width="0.8"/>
<text x="129.9" y="318.85" font-size="3.95" font-weight="bold" text-anchor="middle" fill="#111" stroke="#111" stroke-width="0.2">100</text>
<line x1="39.34" y1="311.5" x2="39.34" y2="312.8" stroke="#000" stroke-width="0.5"/>
<line x1="48.73" y1="311.5" x2="48.73" y2="312.8" stroke="#000" stroke-width="0.5"/>
<line x1="55.39" y1="311.5" x2="55.39" y2="312.8" stroke="#000" stroke-width="0.5"/>
<line x1="60.56" y1="311.5" x2="60.56" y2="312.8" stroke="#000" stroke-width="0.5"/>
<line x1="64.78" y1="311.5" x2="64.78" y2="312.8" stroke="#000" stroke-width="0.5"/>
<line x1="68.34" y1="311.5" x2="68.34" y2="312.8" stroke="#000" stroke-width="0.5"/>
<line x1="71.43" y1="311.5" x2="71.43" y2="312.8" stroke="#000" stroke-width="0.5"/>
<line x1="74.16" y1="311.5" x2="74.16" y2="312.8" stroke="#000" stroke-width="0.5"/>
<line x1="92.64" y1="311.5" x2="92.64" y2="312.8" stroke="#000" stroke-width="0.5"/>
<line x1="102.03" y1="311.5" x2="102.03" y2="312.8" stroke="#000" stroke-width="0.5"/>
<line x1="108.69" y1="311.5" x2="108.69" y2="312.8" stroke="#000" stroke-width="0.5"/>
<line x1="113.86" y1="311.5" x2="113.86" y2="312.8" stroke="#000" stroke-width="0.5"/>
<line x1="118.08" y1="311.5" x2="118.08" y2="312.8" stroke="#000" stroke-width="0.5"/>
<line x1="121.64" y1="311.5" x2="121.64" y2="312.8" stroke="#000" stroke-width="0.5"/>
<line x1="124.73" y1="311.5" x2="124.73" y2="312.8" stroke="#000" stroke-width="0.5"/>
<line x1="127.46" y1="311.5" x2="127.46" y2="312.8" stroke="#000" stroke-width="0.5"/>
<text x="56" y="330.2" font-size="6" font-weight="bold" text-anchor="start" fill="#000" stroke="#000" stroke-width="0.22">Doxorubicin</text>
<text x="92.7" y="330.2" font-size="5.3" font-weight="normal" text-anchor="start" fill="#222">[nM]</text>
<text transform="translate(7.2 270.8) rotate(-90)" font-size="6.8" font-weight="bold" text-anchor="middle" fill="#000" stroke="#000" stroke-width="0.2">Survival (% of control)</text>
<path d="M23.3 242.03 L25.11 242.09 L26.91 242.15 L28.72 242.22 L30.53 242.29 L32.33 242.36 L34.14 242.44 L35.95 242.53 L37.75 242.63 L39.56 242.73 L41.37 242.84 L43.17 242.95 L44.98 243.08 L46.79 243.22 L48.59 243.36 L50.4 243.52 L52.21 243.69 L54.02 243.87 L55.82 244.06 L57.63 244.27 L59.44 244.5 L61.24 244.74 L63.05 245 L64.86 245.27 L66.66 245.57 L68.47 245.89 L70.28 246.23 L72.08 246.6 L73.89 246.99 L75.7 247.41 L77.5 247.86 L79.31 248.35 L81.12 248.86 L82.92 249.41 L84.73 250 L86.54 250.63 L88.34 251.3 L90.15 252.01 L91.96 252.77 L93.76 253.58 L95.57 254.43 L97.38 255.35 L99.18 256.32 L100.99 257.34 L102.8 258.43 L104.61 259.58 L106.41 260.79 L108.22 262.07 L110.03 263.42 L111.83 264.84 L113.64 266.33 L115.45 267.9 L117.25 269.53 L119.06 271.24 L120.87 273.03 L122.67 274.89 L124.48 276.82 L126.29 278.82 L128.09 280.89 L129.9 283.03" fill="none" stroke="#e8202a" stroke-width="1.35" stroke-linecap="round" stroke-linejoin="round"/>
<path d="M23.3 243.49 L25.11 243.77 L26.91 244.07 L28.72 244.39 L30.53 244.73 L32.33 245.09 L34.14 245.47 L35.95 245.87 L37.75 246.3 L39.56 246.75 L41.37 247.23 L43.17 247.73 L44.98 248.26 L46.79 248.83 L48.59 249.42 L50.4 250.05 L52.21 250.7 L54.02 251.39 L55.82 252.12 L57.63 252.88 L59.44 253.67 L61.24 254.5 L63.05 255.36 L64.86 256.26 L66.66 257.2 L68.47 258.17 L70.28 259.18 L72.08 260.22 L73.89 261.3 L75.7 262.41 L77.5 263.55 L79.31 264.73 L81.12 265.93 L82.92 267.15 L84.73 268.4 L86.54 269.68 L88.34 270.97 L90.15 272.28 L91.96 273.6 L93.76 274.94 L95.57 276.28 L97.38 277.63 L99.18 278.97 L100.99 280.32 L102.8 281.66 L104.61 282.99 L106.41 284.31 L108.22 285.62 L110.03 286.91 L111.83 288.18 L113.64 289.42 L115.45 290.64 L117.25 291.84 L119.06 293 L120.87 294.14 L122.67 295.24 L124.48 296.31 L126.29 297.35 L128.09 298.35 L129.9 299.31" fill="none" stroke="#1a1a9a" stroke-width="1.45" stroke-linecap="round" stroke-linejoin="round"/>
<path d="M76.8 246.98 l1.21 2.2 h-2.42 z" fill="#e8202a"/>
<path d="M101.9 255.58 l1.21 2.2 h-2.42 z" fill="#e8202a"/>
<circle cx="129.9" cy="283" r="0.8" fill="#e8202a"/>
<path d="M76.8 262.56 l1.32 2.4 h-2.64 z" fill="#1a1a9a"/>
<path d="M101.9 279.16 l1.32 2.4 h-2.64 z" fill="#1a1a9a"/>
<circle cx="129.9" cy="299.3" r="0.9" fill="#1a1a9a"/>
<path d="M133.6 284.6 H135.9 V299 H133.6" fill="none" stroke="#222" stroke-width="0.9"/>
<text x="142" y="295.6" font-size="6.4" font-weight="bold" text-anchor="middle" fill="#111" stroke="#111" stroke-width="0.3">**</text>
<line x1="29.1" y1="294.8" x2="38" y2="294.8" stroke="#e8202a" stroke-width="1.4"/>
<text x="42.5" y="296.6" font-size="4.4" font-weight="bold" text-anchor="start" fill="#000" stroke="#000" stroke-width="0.28">ctr</text>
<line x1="29.1" y1="301.4" x2="38" y2="301.4" stroke="#1a1a9a" stroke-width="1.4"/>
<text x="42.5" y="302.7" font-size="4.4" font-weight="bold" text-anchor="start" fill="#000" textLength="30.1" lengthAdjust="spacingAndGlyphs" stroke="#000" stroke-width="0.28">+OSSL_129187</text>
<line x1="181.4" y1="233.8" x2="181.4" y2="312.3" stroke="#000" stroke-width="0.9"/>
<line x1="178.9" y1="311.9" x2="298.4" y2="311.9" stroke="#000" stroke-width="0.9"/>
<line x1="179" y1="311.9" x2="181.4" y2="311.9" stroke="#000" stroke-width="0.8"/>
<text x="178" y="313.25" font-size="3.9" font-weight="normal" text-anchor="end" fill="#111" stroke="#111" stroke-width="0.16">0</text>
<line x1="179" y1="297.65" x2="181.4" y2="297.65" stroke="#000" stroke-width="0.8"/>
<text x="178" y="299" font-size="3.9" font-weight="normal" text-anchor="end" fill="#111" stroke="#111" stroke-width="0.16">20</text>
<line x1="179" y1="283.4" x2="181.4" y2="283.4" stroke="#000" stroke-width="0.8"/>
<text x="178" y="284.75" font-size="3.9" font-weight="normal" text-anchor="end" fill="#111" stroke="#111" stroke-width="0.16">40</text>
<line x1="179" y1="269.15" x2="181.4" y2="269.15" stroke="#000" stroke-width="0.8"/>
<text x="178" y="270.5" font-size="3.9" font-weight="normal" text-anchor="end" fill="#111" stroke="#111" stroke-width="0.16">60</text>
<line x1="179" y1="254.9" x2="181.4" y2="254.9" stroke="#000" stroke-width="0.8"/>
<text x="178" y="256.25" font-size="3.9" font-weight="normal" text-anchor="end" fill="#111" stroke="#111" stroke-width="0.16">80</text>
<line x1="179" y1="240.65" x2="181.4" y2="240.65" stroke="#000" stroke-width="0.8"/>
<text x="178" y="242" font-size="3.9" font-weight="normal" text-anchor="end" fill="#111" stroke="#111" stroke-width="0.16">100</text>
<line x1="181.4" y1="311.9" x2="181.4" y2="314.3" stroke="#000" stroke-width="0.8"/>
<text x="181.4" y="319.05" font-size="3.9" font-weight="normal" text-anchor="middle" fill="#111" stroke="#111" stroke-width="0.16">0.001</text>
<line x1="210.65" y1="311.9" x2="210.65" y2="314.3" stroke="#000" stroke-width="0.8"/>
<text x="210.65" y="319.05" font-size="3.9" font-weight="normal" text-anchor="middle" fill="#111" stroke="#111" stroke-width="0.16">0.01</text>
<line x1="239.9" y1="311.9" x2="239.9" y2="314.3" stroke="#000" stroke-width="0.8"/>
<text x="239.9" y="319.05" font-size="3.9" font-weight="normal" text-anchor="middle" fill="#111" stroke="#111" stroke-width="0.16">0.1</text>
<line x1="269.15" y1="311.9" x2="269.15" y2="314.3" stroke="#000" stroke-width="0.8"/>
<text x="269.15" y="319.05" font-size="3.9" font-weight="normal" text-anchor="middle" fill="#111" stroke="#111" stroke-width="0.16">1</text>
<line x1="298.4" y1="311.9" x2="298.4" y2="314.3" stroke="#000" stroke-width="0.8"/>
<text x="298.4" y="319.05" font-size="3.9" font-weight="normal" text-anchor="middle" fill="#111" stroke="#111" stroke-width="0.16">10</text>
<line x1="190.21" y1="311.9" x2="190.21" y2="313.2" stroke="#000" stroke-width="0.5"/>
<line x1="195.36" y1="311.9" x2="195.36" y2="313.2" stroke="#000" stroke-width="0.5"/>
<line x1="199.01" y1="311.9" x2="199.01" y2="313.2" stroke="#000" stroke-width="0.5"/>
<line x1="201.84" y1="311.9" x2="201.84" y2="313.2" stroke="#000" stroke-width="0.5"/>
<line x1="204.16" y1="311.9" x2="204.16" y2="313.2" stroke="#000" stroke-width="0.5"/>
<line x1="206.12" y1="311.9" x2="206.12" y2="313.2" stroke="#000" stroke-width="0.5"/>
<line x1="207.82" y1="311.9" x2="207.82" y2="313.2" stroke="#000" stroke-width="0.5"/>
<line x1="209.31" y1="311.9" x2="209.31" y2="313.2" stroke="#000" stroke-width="0.5"/>
<line x1="219.46" y1="311.9" x2="219.46" y2="313.2" stroke="#000" stroke-width="0.5"/>
<line x1="224.61" y1="311.9" x2="224.61" y2="313.2" stroke="#000" stroke-width="0.5"/>
<line x1="228.26" y1="311.9" x2="228.26" y2="313.2" stroke="#000" stroke-width="0.5"/>
<line x1="231.09" y1="311.9" x2="231.09" y2="313.2" stroke="#000" stroke-width="0.5"/>
<line x1="233.41" y1="311.9" x2="233.41" y2="313.2" stroke="#000" stroke-width="0.5"/>
<line x1="235.37" y1="311.9" x2="235.37" y2="313.2" stroke="#000" stroke-width="0.5"/>
<line x1="237.07" y1="311.9" x2="237.07" y2="313.2" stroke="#000" stroke-width="0.5"/>
<line x1="238.56" y1="311.9" x2="238.56" y2="313.2" stroke="#000" stroke-width="0.5"/>
<line x1="248.71" y1="311.9" x2="248.71" y2="313.2" stroke="#000" stroke-width="0.5"/>
<line x1="253.86" y1="311.9" x2="253.86" y2="313.2" stroke="#000" stroke-width="0.5"/>
<line x1="257.51" y1="311.9" x2="257.51" y2="313.2" stroke="#000" stroke-width="0.5"/>
<line x1="260.34" y1="311.9" x2="260.34" y2="313.2" stroke="#000" stroke-width="0.5"/>
<line x1="262.66" y1="311.9" x2="262.66" y2="313.2" stroke="#000" stroke-width="0.5"/>
<line x1="264.62" y1="311.9" x2="264.62" y2="313.2" stroke="#000" stroke-width="0.5"/>
<line x1="266.32" y1="311.9" x2="266.32" y2="313.2" stroke="#000" stroke-width="0.5"/>
<line x1="267.81" y1="311.9" x2="267.81" y2="313.2" stroke="#000" stroke-width="0.5"/>
<line x1="277.96" y1="311.9" x2="277.96" y2="313.2" stroke="#000" stroke-width="0.5"/>
<line x1="283.11" y1="311.9" x2="283.11" y2="313.2" stroke="#000" stroke-width="0.5"/>
<line x1="286.76" y1="311.9" x2="286.76" y2="313.2" stroke="#000" stroke-width="0.5"/>
<line x1="289.59" y1="311.9" x2="289.59" y2="313.2" stroke="#000" stroke-width="0.5"/>
<line x1="291.91" y1="311.9" x2="291.91" y2="313.2" stroke="#000" stroke-width="0.5"/>
<line x1="293.87" y1="311.9" x2="293.87" y2="313.2" stroke="#000" stroke-width="0.5"/>
<line x1="295.57" y1="311.9" x2="295.57" y2="313.2" stroke="#000" stroke-width="0.5"/>
<line x1="297.06" y1="311.9" x2="297.06" y2="313.2" stroke="#000" stroke-width="0.5"/>
<text x="215.3" y="328.4" font-size="6.05" font-weight="bold" text-anchor="start" fill="#000" stroke="#000" stroke-width="0.22">Melphalan</text>
<text x="247" y="328.4" font-size="5.3" font-weight="normal" text-anchor="start" fill="#222">[&#181;M]</text>
<text transform="translate(163.6 272) rotate(-90)" font-size="6.2" font-weight="bold" text-anchor="middle" fill="#000" stroke="#000" stroke-width="0.2">Survival (% of control)</text>
<path d="M181.4 240.41 L183.12 240.41 L184.84 240.42 L186.56 240.42 L188.27 240.42 L189.99 240.43 L191.71 240.43 L193.43 240.44 L195.15 240.44 L196.87 240.45 L198.59 240.46 L200.31 240.47 L202.02 240.48 L203.74 240.5 L205.46 240.52 L207.18 240.54 L208.9 240.56 L210.62 240.59 L212.34 240.63 L214.05 240.67 L215.77 240.72 L217.49 240.78 L219.21 240.85 L220.93 240.93 L222.65 241.02 L224.37 241.14 L226.08 241.27 L227.8 241.42 L229.52 241.61 L231.24 241.82 L232.96 242.07 L234.68 242.37 L236.4 242.71 L238.12 243.11 L239.83 243.58 L241.55 244.13 L243.27 244.75 L244.99 245.48 L246.71 246.32 L248.43 247.27 L250.15 248.36 L251.86 249.58 L253.58 250.96 L255.3 252.5 L257.02 254.2 L258.74 256.06 L260.46 258.07 L262.18 260.23 L263.89 262.51 L265.61 264.89 L267.33 267.35 L269.05 269.85 L270.77 272.36 L272.49 274.84 L274.21 277.26 L275.93 279.59 L277.64 281.81 L279.36 283.88 L281.08 285.81 L282.8 287.58" fill="none" stroke="#e8202a" stroke-width="1.5" stroke-linecap="round" stroke-linejoin="round"/>
<path d="M181.4 241.92 L183.12 241.92 L184.84 241.93 L186.56 241.94 L188.27 241.95 L189.99 241.96 L191.71 241.97 L193.43 241.98 L195.15 242 L196.87 242.02 L198.59 242.05 L200.31 242.08 L202.02 242.11 L203.74 242.15 L205.46 242.19 L207.18 242.25 L208.9 242.31 L210.62 242.38 L212.34 242.46 L214.05 242.56 L215.77 242.68 L217.49 242.81 L219.21 242.96 L220.93 243.15 L222.65 243.36 L224.37 243.6 L226.08 243.88 L227.8 244.21 L229.52 244.6 L231.24 245.04 L232.96 245.55 L234.68 246.13 L236.4 246.81 L238.12 247.58 L239.83 248.46 L241.55 249.46 L243.27 250.6 L244.99 251.88 L246.71 253.31 L248.43 254.91 L250.15 256.68 L251.86 258.63 L253.58 260.75 L255.3 263.04 L257.02 265.49 L258.74 268.09 L260.46 270.8 L262.18 273.62 L263.89 276.5 L265.61 279.41 L267.33 282.31 L269.05 285.18 L270.77 287.98 L272.49 290.67 L274.21 293.23 L275.93 295.65 L277.64 297.9 L279.36 299.98 L281.08 301.89 L282.8 303.62" fill="none" stroke="#1a1a9a" stroke-width="1.6" stroke-linecap="round" stroke-linejoin="round"/>
<circle cx="254" cy="247.4" r="0.7" fill="#e8202a"/>
<path d="M269.4 269.28 l1.21 2.2 h-2.42 z" fill="#e8202a"/>
<circle cx="282.8" cy="287.7" r="0.8" fill="#e8202a"/>
<path d="M253.6 256.96 l1.32 2.4 h-2.64 z" fill="#1a1a9a"/>
<path d="M269.4 285.36 l1.32 2.4 h-2.64 z" fill="#1a1a9a"/>
<circle cx="282.8" cy="303.3" r="0.9" fill="#1a1a9a"/>
<path d="M285.6 288 H288.2 V303 H285.6" fill="none" stroke="#222" stroke-width="0.85"/>
<text x="294.2" y="298.8" font-size="5.6" font-weight="bold" text-anchor="middle" fill="#444" stroke="#444" stroke-width="0.15">**</text>
<line x1="186.4" y1="294.4" x2="195.3" y2="294.4" stroke="#e8202a" stroke-width="1.4"/>
<text x="203.6" y="295.3" font-size="4.4" font-weight="bold" text-anchor="start" fill="#000" stroke="#000" stroke-width="0.28">ctr</text>
<line x1="186.4" y1="301.3" x2="195.3" y2="301.3" stroke="#1a1a9a" stroke-width="1.4"/>
<text x="203.6" y="303.1" font-size="4.4" font-weight="bold" text-anchor="start" fill="#000" textLength="30.4" lengthAdjust="spacingAndGlyphs" stroke="#000" stroke-width="0.28">+OSSL_129187</text>
</g>
<g id="panelD">
<text x="317.4" y="181.9" font-size="11.2" font-weight="bold" text-anchor="start" fill="#000" stroke="#000" stroke-width="0.2">D</text>
<line x1="373.8" y1="207.3" x2="373.8" y2="209.8" stroke="#222" stroke-width="0.5"/>
<line x1="372.5" y1="207.3" x2="375.1" y2="207.3" stroke="#222" stroke-width="0.5"/>
<rect x="370.2" y="209.8" width="7.2" height="53.7" fill="#000000" stroke="#000000" stroke-width="0.35"/>
<line x1="381.35" y1="208.4" x2="381.35" y2="210.6" stroke="#222" stroke-width="0.5"/>
<line x1="380.05" y1="208.4" x2="382.65" y2="208.4" stroke="#222" stroke-width="0.5"/>
<rect x="377.75" y="210.6" width="7.2" height="52.9" fill="#6e6e6e" stroke="#555555" stroke-width="0.35"/>
<line x1="388.9" y1="199.9" x2="388.9" y2="209.8" stroke="#222" stroke-width="0.5"/>
<line x1="387.6" y1="199.9" x2="390.2" y2="199.9" stroke="#222" stroke-width="0.5"/>
<rect x="385.3" y="209.8" width="7.2" height="53.7" fill="#d2d2d2" stroke="#9a9a9a" stroke-width="0.35"/>
<line x1="403.8" y1="212" x2="403.8" y2="213.2" stroke="#222" stroke-width="0.5"/>
<line x1="402.5" y1="212" x2="405.1" y2="212" stroke="#222" stroke-width="0.5"/>
<rect x="400.2" y="213.2" width="7.2" height="50.3" fill="#000000" stroke="#000000" stroke-width="0.35"/>
<line x1="411.35" y1="218.8" x2="411.35" y2="219.6" stroke="#222" stroke-width="0.5"/>
<line x1="410.05" y1="218.8" x2="412.65" y2="218.8" stroke="#222" stroke-width="0.5"/>
<rect x="407.75" y="219.6" width="7.2" height="43.9" fill="#6e6e6e" stroke="#555555" stroke-width="0.35"/>
<line x1="418.9" y1="212.6" x2="418.9" y2="213.2" stroke="#222" stroke-width="0.5"/>
<line x1="417.6" y1="212.6" x2="420.2" y2="212.6" stroke="#222" stroke-width="0.5"/>
<rect x="415.3" y="213.2" width="7.2" height="50.3" fill="#d2d2d2" stroke="#9a9a9a" stroke-width="0.35"/>
<line x1="434.1" y1="227.8" x2="434.1" y2="229.4" stroke="#222" stroke-width="0.5"/>
<line x1="432.8" y1="227.8" x2="435.4" y2="227.8" stroke="#222" stroke-width="0.5"/>
<rect x="430.5" y="229.4" width="7.2" height="34.1" fill="#000000" stroke="#000000" stroke-width="0.35"/>
<line x1="441.65" y1="240.2" x2="441.65" y2="241.3" stroke="#222" stroke-width="0.5"/>
<line x1="440.35" y1="240.2" x2="442.95" y2="240.2" stroke="#222" stroke-width="0.5"/>
<rect x="438.05" y="241.3" width="7.2" height="22.2" fill="#6e6e6e" stroke="#555555" stroke-width="0.35"/>
<line x1="449.2" y1="231.2" x2="449.2" y2="232" stroke="#222" stroke-width="0.5"/>
<line x1="447.9" y1="231.2" x2="450.5" y2="231.2" stroke="#222" stroke-width="0.5"/>
<rect x="445.6" y="232" width="7.2" height="31.5" fill="#d2d2d2" stroke="#9a9a9a" stroke-width="0.35"/>
<line x1="464" y1="245.8" x2="464" y2="246.3" stroke="#222" stroke-width="0.5"/>
<line x1="462.7" y1="245.8" x2="465.3" y2="245.8" stroke="#222" stroke-width="0.5"/>
<rect x="460.4" y="246.3" width="7.2" height="17.2" fill="#000000" stroke="#000000" stroke-width="0.35"/>
<line x1="471.55" y1="254" x2="471.55" y2="255.2" stroke="#222" stroke-width="0.5"/>
<line x1="470.25" y1="254" x2="472.85" y2="254" stroke="#222" stroke-width="0.5"/>
<rect x="467.95" y="255.2" width="7.2" height="8.3" fill="#6e6e6e" stroke="#555555" stroke-width="0.35"/>
<line x1="479.1" y1="245.6" x2="479.1" y2="246.3" stroke="#222" stroke-width="0.5"/>
<line x1="477.8" y1="245.6" x2="480.4" y2="245.6" stroke="#222" stroke-width="0.5"/>
<rect x="475.5" y="246.3" width="7.2" height="17.2" fill="#d2d2d2" stroke="#9a9a9a" stroke-width="0.35"/>
<line x1="366.1" y1="183.4" x2="366.1" y2="263.85" stroke="#000" stroke-width="0.7"/>
<line x1="366.1" y1="263.5" x2="487.2" y2="263.5" stroke="#000" stroke-width="0.7"/>
<line x1="364.1" y1="263.5" x2="366.1" y2="263.5" stroke="#000" stroke-width="0.6"/>
<text x="362.7" y="264.85" font-size="3.8" font-weight="bold" text-anchor="end" fill="#111" stroke="#111" stroke-width="0.15">0</text>
<line x1="364.1" y1="236.8" x2="366.1" y2="236.8" stroke="#000" stroke-width="0.6"/>
<text x="362.7" y="238.15" font-size="3.8" font-weight="bold" text-anchor="end" fill="#111" stroke="#111" stroke-width="0.15">50</text>
<line x1="364.1" y1="210.1" x2="366.1" y2="210.1" stroke="#000" stroke-width="0.6"/>
<text x="362.7" y="211.45" font-size="3.8" font-weight="bold" text-anchor="end" fill="#111" stroke="#111" stroke-width="0.15">100</text>
<line x1="364.1" y1="183.4" x2="366.1" y2="183.4" stroke="#000" stroke-width="0.6"/>
<text x="362.7" y="184.75" font-size="3.8" font-weight="bold" text-anchor="end" fill="#111" stroke="#111" stroke-width="0.15">150</text>
<line x1="381.4" y1="263.5" x2="381.4" y2="265.3" stroke="#000" stroke-width="0.6"/>
<text x="381.4" y="271" font-size="4" font-weight="bold" text-anchor="middle" fill="#111" stroke="#111" stroke-width="0.15">0</text>
<line x1="411.4" y1="263.5" x2="411.4" y2="265.3" stroke="#000" stroke-width="0.6"/>
<text x="411.4" y="271" font-size="4" font-weight="bold" text-anchor="middle" fill="#111" stroke="#111" stroke-width="0.15">0.3</text>
<line x1="441.7" y1="263.5" x2="441.7" y2="265.3" stroke="#000" stroke-width="0.6"/>
<text x="441.7" y="271" font-size="4" font-weight="bold" text-anchor="middle" fill="#111" stroke="#111" stroke-width="0.15">1</text>
<line x1="471.8" y1="263.5" x2="471.8" y2="265.3" stroke="#000" stroke-width="0.6"/>
<text x="471.8" y="271" font-size="4" font-weight="bold" text-anchor="middle" fill="#111" stroke="#111" stroke-width="0.15">3</text>
<text x="426.4" y="283" font-size="4.5" font-weight="bold" text-anchor="middle" fill="#111" stroke="#111" stroke-width="0.12">Melphalan [&#181;M]</text>
<text transform="translate(350.1 224.2) rotate(-90)" font-size="4.42" font-weight="bold" text-anchor="middle" fill="#111" stroke="#111" stroke-width="0.25">Survival (% of control)</text>
<rect x="459.1" y="185.5" width="3.8" height="3.8" fill="#000000" stroke="#000" stroke-width="0.4"/>
<text x="467.1" y="188.75" font-size="3.8" font-weight="bold" text-anchor="start" fill="#111" textLength="12.7" lengthAdjust="spacingAndGlyphs" stroke="#111" stroke-width="0.15">control</text>
<rect x="459.1" y="192.45" width="3.8" height="3.8" fill="#6e6e6e" stroke="#444" stroke-width="0.4"/>
<text x="467.1" y="195.7" font-size="3.8" font-weight="bold" text-anchor="start" fill="#111" textLength="16.9" lengthAdjust="spacingAndGlyphs" stroke="#111" stroke-width="0.15">SIRT6 KD</text>
<rect x="459.1" y="199.4" width="3.8" height="3.8" fill="#d2d2d2" stroke="#777" stroke-width="0.4"/>
<text x="467.1" y="202.65" font-size="3.8" font-weight="bold" text-anchor="start" fill="#111" textLength="51.6" lengthAdjust="spacingAndGlyphs" stroke="#111" stroke-width="0.15">SIRT6 KD +pLOC SIRT6-WT</text>
<path d="M404 209.5 V204.1 H419.3 V211.5" fill="none" stroke="#222" stroke-width="0.55"/>
<text x="411.65" y="203.5" font-size="3.8" font-weight="normal" text-anchor="middle" fill="#333">ns</text>
<path d="M404 211.5 V208.8 H411.3 V217.5" fill="none" stroke="#222" stroke-width="0.55"/>
<text x="407.65" y="209.7" font-size="3.8" font-weight="normal" text-anchor="middle" fill="#333">**</text>
<path d="M434.3 226.5 V220.3 H449.6 V229.8" fill="none" stroke="#222" stroke-width="0.55"/>
<text x="441.95" y="219.7" font-size="3.8" font-weight="normal" text-anchor="middle" fill="#333">ns</text>
<path d="M434.3 227 V224.6 H441.7 V239" fill="none" stroke="#222" stroke-width="0.55"/>
<text x="438" y="225.5" font-size="3.8" font-weight="normal" text-anchor="middle" fill="#333">**</text>
<path d="M464.4 244.4 V237.3 H479.8 V244.4" fill="none" stroke="#222" stroke-width="0.55"/>
<text x="472.1" y="236.7" font-size="3.8" font-weight="normal" text-anchor="middle" fill="#333">ns</text>
<path d="M464.4 244.6 V242 H471.8 V252.8" fill="none" stroke="#222" stroke-width="0.55"/>
<text x="468.1" y="242.9" font-size="3.8" font-weight="normal" text-anchor="middle" fill="#333">**</text>
<line x1="376.2" y1="316.3" x2="376.2" y2="318.8" stroke="#222" stroke-width="0.5"/>
<line x1="374.9" y1="316.3" x2="377.5" y2="316.3" stroke="#222" stroke-width="0.5"/>
<rect x="372.6" y="318.8" width="7.2" height="51.9" fill="#000000" stroke="#000000" stroke-width="0.35"/>
<line x1="383.75" y1="317" x2="383.75" y2="319.2" stroke="#222" stroke-width="0.5"/>
<line x1="382.45" y1="317" x2="385.05" y2="317" stroke="#222" stroke-width="0.5"/>
<rect x="380.15" y="319.2" width="7.2" height="51.5" fill="#6e6e6e" stroke="#555555" stroke-width="0.35"/>
<line x1="391.3" y1="317.8" x2="391.3" y2="318.8" stroke="#222" stroke-width="0.5"/>
<line x1="390" y1="317.8" x2="392.6" y2="317.8" stroke="#222" stroke-width="0.5"/>
<rect x="387.7" y="318.8" width="7.2" height="51.9" fill="#d2d2d2" stroke="#9a9a9a" stroke-width="0.35"/>
<line x1="405.5" y1="331" x2="405.5" y2="332" stroke="#222" stroke-width="0.5"/>
<line x1="404.2" y1="331" x2="406.8" y2="331" stroke="#222" stroke-width="0.5"/>
<rect x="401.9" y="332" width="7.2" height="38.7" fill="#000000" stroke="#000000" stroke-width="0.35"/>
<line x1="413.05" y1="336.8" x2="413.05" y2="339.4" stroke="#222" stroke-width="0.5"/>
<line x1="411.75" y1="336.8" x2="414.35" y2="336.8" stroke="#222" stroke-width="0.5"/>
<rect x="409.45" y="339.4" width="7.2" height="31.3" fill="#6e6e6e" stroke="#555555" stroke-width="0.35"/>
<line x1="420.6" y1="319.4" x2="420.6" y2="328.4" stroke="#222" stroke-width="0.5"/>
<line x1="419.3" y1="319.4" x2="421.9" y2="319.4" stroke="#222" stroke-width="0.5"/>
<rect x="417" y="328.4" width="7.2" height="42.3" fill="#d2d2d2" stroke="#9a9a9a" stroke-width="0.35"/>
<line x1="434.4" y1="345.3" x2="434.4" y2="348" stroke="#222" stroke-width="0.5"/>
<line x1="433.1" y1="345.3" x2="435.7" y2="345.3" stroke="#222" stroke-width="0.5"/>
<rect x="430.8" y="348" width="7.2" height="22.7" fill="#000000" stroke="#000000" stroke-width="0.35"/>
<line x1="441.95" y1="353.8" x2="441.95" y2="355.9" stroke="#222" stroke-width="0.5"/>
<line x1="440.65" y1="353.8" x2="443.25" y2="353.8" stroke="#222" stroke-width="0.5"/>
<rect x="438.35" y="355.9" width="7.2" height="14.8" fill="#6e6e6e" stroke="#555555" stroke-width="0.35"/>
<line x1="449.5" y1="344.2" x2="449.5" y2="346.8" stroke="#222" stroke-width="0.5"/>
<line x1="448.2" y1="344.2" x2="450.8" y2="344.2" stroke="#222" stroke-width="0.5"/>
<rect x="445.9" y="346.8" width="7.2" height="23.9" fill="#d2d2d2" stroke="#9a9a9a" stroke-width="0.35"/>
<line x1="464" y1="350.8" x2="464" y2="351.6" stroke="#222" stroke-width="0.5"/>
<line x1="462.7" y1="350.8" x2="465.3" y2="350.8" stroke="#222" stroke-width="0.5"/>
<rect x="460.4" y="351.6" width="7.2" height="19.1" fill="#000000" stroke="#000000" stroke-width="0.35"/>
<line x1="471.55" y1="359" x2="471.55" y2="360.1" stroke="#222" stroke-width="0.5"/>
<line x1="470.25" y1="359" x2="472.85" y2="359" stroke="#222" stroke-width="0.5"/>
<rect x="467.95" y="360.1" width="7.2" height="10.6" fill="#6e6e6e" stroke="#555555" stroke-width="0.35"/>
<line x1="479.1" y1="349.6" x2="479.1" y2="350.6" stroke="#222" stroke-width="0.5"/>
<line x1="477.8" y1="349.6" x2="480.4" y2="349.6" stroke="#222" stroke-width="0.5"/>
<rect x="475.5" y="350.6" width="7.2" height="20.1" fill="#d2d2d2" stroke="#9a9a9a" stroke-width="0.35"/>
<line x1="368.8" y1="292.3" x2="368.8" y2="371.05" stroke="#000" stroke-width="0.7"/>
<line x1="368.8" y1="370.7" x2="487.8" y2="370.7" stroke="#000" stroke-width="0.7"/>
<line x1="366.8" y1="370.7" x2="368.8" y2="370.7" stroke="#000" stroke-width="0.6"/>
<text x="365.4" y="372.05" font-size="3.8" font-weight="bold" text-anchor="end" fill="#111" stroke="#111" stroke-width="0.15">0</text>
<line x1="366.8" y1="344.55" x2="368.8" y2="344.55" stroke="#000" stroke-width="0.6"/>
<text x="365.4" y="345.9" font-size="3.8" font-weight="bold" text-anchor="end" fill="#111" stroke="#111" stroke-width="0.15">50</text>
<line x1="366.8" y1="318.4" x2="368.8" y2="318.4" stroke="#000" stroke-width="0.6"/>
<text x="365.4" y="319.75" font-size="3.8" font-weight="bold" text-anchor="end" fill="#111" stroke="#111" stroke-width="0.15">100</text>
<line x1="366.8" y1="292.25" x2="368.8" y2="292.25" stroke="#000" stroke-width="0.6"/>
<text x="365.4" y="293.6" font-size="3.8" font-weight="bold" text-anchor="end" fill="#111" stroke="#111" stroke-width="0.15">150</text>
<line x1="383.7" y1="370.7" x2="383.7" y2="372.5" stroke="#000" stroke-width="0.6"/>
<text x="383.7" y="378" font-size="4" font-weight="bold" text-anchor="middle" fill="#111" stroke="#111" stroke-width="0.15">0</text>
<line x1="413.3" y1="370.7" x2="413.3" y2="372.5" stroke="#000" stroke-width="0.6"/>
<text x="413.3" y="378" font-size="4" font-weight="bold" text-anchor="middle" fill="#111" stroke="#111" stroke-width="0.15">10</text>
<line x1="442.5" y1="370.7" x2="442.5" y2="372.5" stroke="#000" stroke-width="0.6"/>
<text x="442.5" y="378" font-size="4" font-weight="bold" text-anchor="middle" fill="#111" stroke="#111" stroke-width="0.15">30</text>
<line x1="471.8" y1="370.7" x2="471.8" y2="372.5" stroke="#000" stroke-width="0.6"/>
<text x="471.8" y="378" font-size="4" font-weight="bold" text-anchor="middle" fill="#111" stroke="#111" stroke-width="0.15">100</text>
<text x="427.4" y="389" font-size="4.5" font-weight="bold" text-anchor="middle" fill="#111" stroke="#111" stroke-width="0.12">Doxorubicin [nM]</text>
<text transform="translate(353 332) rotate(-90)" font-size="4.42" font-weight="bold" text-anchor="middle" fill="#111" stroke="#111" stroke-width="0.25">Survival (% of control)</text>
<rect x="459.1" y="296.6" width="3.8" height="3.8" fill="#000000" stroke="#000" stroke-width="0.4"/>
<text x="467.1" y="299.85" font-size="3.8" font-weight="bold" text-anchor="start" fill="#111" textLength="12.7" lengthAdjust="spacingAndGlyphs" stroke="#111" stroke-width="0.15">control</text>
<rect x="459.1" y="303.55" width="3.8" height="3.8" fill="#6e6e6e" stroke="#444" stroke-width="0.4"/>
<text x="467.1" y="306.8" font-size="3.8" font-weight="bold" text-anchor="start" fill="#111" textLength="16.9" lengthAdjust="spacingAndGlyphs" stroke="#111" stroke-width="0.15">SIRT6 KD</text>
<rect x="459.1" y="310.5" width="3.8" height="3.8" fill="#d2d2d2" stroke="#777" stroke-width="0.4"/>
<text x="467.1" y="313.75" font-size="3.8" font-weight="bold" text-anchor="start" fill="#111" textLength="51.6" lengthAdjust="spacingAndGlyphs" stroke="#111" stroke-width="0.15">SIRT6 KD +pLOC SIRT6-WT</text>
<path d="M405.6 329.5 V318.4 H420.8 V320.5" fill="none" stroke="#222" stroke-width="0.55"/>
<text x="413.2" y="317.8" font-size="3.8" font-weight="normal" text-anchor="middle" fill="#333">ns</text>
<path d="M405.6 329.5 V324.1 H412.9 V335.6" fill="none" stroke="#222" stroke-width="0.55"/>
<text x="409.25" y="325" font-size="3.8" font-weight="normal" text-anchor="middle" fill="#333">**</text>
<path d="M434.4 344.2 V338.9 H450 V343.6" fill="none" stroke="#222" stroke-width="0.55"/>
<text x="442.2" y="338.3" font-size="3.8" font-weight="normal" text-anchor="middle" fill="#333">ns</text>
<path d="M434.4 344.4 V342.3 H442 V352.8" fill="none" stroke="#222" stroke-width="0.55"/>
<text x="438.2" y="341.7" font-size="3.8" font-weight="normal" text-anchor="middle" fill="#333">ns</text>
<path d="M464.4 350.2 V343.8 H479.8 V349.2" fill="none" stroke="#222" stroke-width="0.55"/>
<text x="472.1" y="343.2" font-size="3.8" font-weight="normal" text-anchor="middle" fill="#333">ns</text>
<path d="M464.4 350.4 V348 H471.8 V358.2" fill="none" stroke="#222" stroke-width="0.55"/>
<text x="468.1" y="348.9" font-size="3.8" font-weight="normal" text-anchor="middle" fill="#333">**</text>
</g>
</svg>
</body></html>
